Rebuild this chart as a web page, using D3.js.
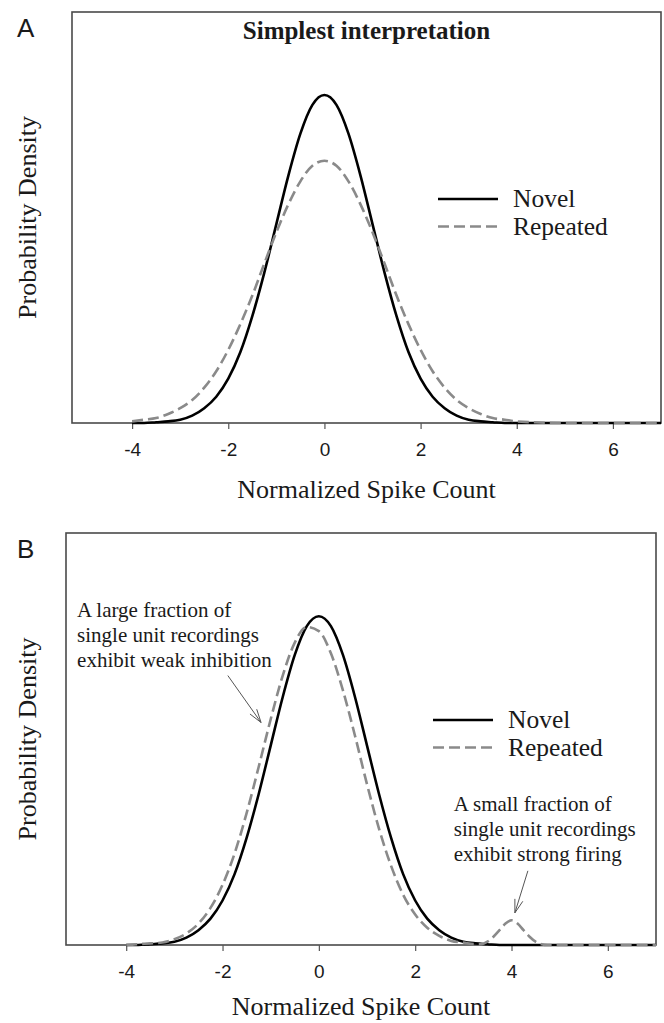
<!DOCTYPE html>
<html>

<head>
    <meta charset="utf-8">
    <script src="https://d3js.org/d3.v7.min.js"></script>
    <style>
        body { margin: 0; background: #fff; }
        text { font-family: "Liberation Serif", "Times New Roman", serif; fill: #1a1a1a; }
        .sans { font-family: "Liberation Sans", Arial, sans-serif; }
    </style>

    <script type="text/javascript">
        // x grid the curves were read at
        const xsA = [-4, -3.75, -3.5, -3.25, -3, -2.75, -2.5, -2.25, -2, -1.75, -1.5, -1.25, -1, -0.75, -0.5, -0.25,
            0, 0.25, 0.5, 0.75, 1, 1.25, 1.5, 1.75, 2, 2.25, 2.5, 2.75, 3, 3.25, 3.5, 3.75, 4, 5, 6, 7];
        const novel = [0, 0, 0.001, 0.002, 0.004, 0.009, 0.018, 0.032, 0.054, 0.086, 0.130, 0.183, 0.242, 0.301, 0.352, 0.387,
            0.399, 0.387, 0.352, 0.301, 0.242, 0.183, 0.130, 0.086, 0.054, 0.032, 0.018, 0.009, 0.004, 0.002, 0.001, 0, 0, 0, 0, 0];
        const repeatedA = [0.002, 0.004, 0.006, 0.011, 0.018, 0.028, 0.043, 0.063, 0.089, 0.120, 0.155, 0.194, 0.232, 0.266, 0.294, 0.313,
            0.319, 0.313, 0.294, 0.266, 0.232, 0.194, 0.155, 0.120, 0.089, 0.063, 0.043, 0.028, 0.018, 0.011, 0.006, 0.004, 0.002, 0, 0, 0];

        // panel B repeated curve has a small bump near 4, read on a finer grid there
        const xsB = [-4, -3.75, -3.5, -3.25, -3, -2.75, -2.5, -2.25, -2, -1.75, -1.5, -1.25, -1, -0.75, -0.5, -0.25,
            0, 0.25, 0.5, 0.75, 1, 1.25, 1.5, 1.75, 2, 2.25, 2.5, 2.75, 3,
            3.25, 3.375, 3.5, 3.625, 3.75, 3.875, 4, 4.125, 4.25, 4.375, 4.5, 4.625, 4.75, 5, 6, 7];
        const repeatedB = [0, 0.001, 0.002, 0.003, 0.007, 0.014, 0.026, 0.045, 0.073, 0.111, 0.160, 0.216, 0.274, 0.327, 0.367, 0.386,
            0.381, 0.354, 0.309, 0.254, 0.195, 0.141, 0.096, 0.061, 0.037, 0.021, 0.011, 0.005, 0.003,
            0.001, 0.001, 0.004, 0.010, 0.018, 0.026, 0.030, 0.026, 0.018, 0.010, 0.004, 0.001, 0, 0, 0, 0];

        const tickValues = [-4, -2, 0, 2, 4, 6];
        const seriesNames = ["Novel", "Repeated"];
        const xTitle = "Normalized Spike Count";
        const yTitle = "Probability Density";

        // annotation text and arrows (data units: [x, y])
        const noteWeak = ["A large fraction of", "single unit recordings", "exhibit weak inhibition"];
        const noteWeakAt = [-5.02, 0.398];
        const arrowWeak = [[-1.89, 0.327], [-1.20, 0.270]];
        const noteStrong = ["A small fraction of", "single unit recordings", "exhibit strong firing"];
        const noteStrongAt = [2.80, 0.163];
        const arrowStrong = [[4.34, 0.090], [4.07, 0.039]];

        function draw() {
            let svg = d3.select("body")
                .append("svg")
                .attr("width", 664)
                .attr("height", 1023);

            let panels = [
                {
                    tag: "A", left: 72, right: 661, top: 12, bottom: 423, titleGap: 75,
                    title: "Simplest interpretation",
                    novel: xsA.map((x, i) => [x, novel[i]]),
                    repeated: xsA.map((x, i) => [x, repeatedA[i]]),
                    notes: []
                },
                {
                    tag: "B", left: 66, right: 656, top: 533, bottom: 945, titleGap: 70,
                    title: null,
                    novel: xsA.map((x, i) => [x, novel[i]]),
                    repeated: xsB.map((x, i) => [x, repeatedB[i]]),
                    notes: [
                        { lines: noteWeak, at: noteWeakAt, arrow: arrowWeak },
                        { lines: noteStrong, at: noteStrongAt, arrow: arrowStrong }
                    ]
                }
            ];

            panels.forEach(p => drawPanel(svg, p));
        }

        function drawPanel(svg, p) {
            let x = d3.scaleLinear().domain([-5.25, 7]).range([p.left, p.right]);
            let y = d3.scaleLinear().domain([0, 0.5]).range([p.bottom, p.top]);
            let g = svg.append("g");
            let cx = (p.left + p.right) / 2;

            // frame
            g.append("rect")
                .attr("x", p.left).attr("y", p.top)
                .attr("width", p.right - p.left).attr("height", p.bottom - p.top)
                .attr("fill", "none").attr("stroke", "#4a4a4a").attr("stroke-width", 1.6);

            // x axis ticks
            let axis = d3.axisBottom(x).tickValues(tickValues).tickSize(6).tickPadding(14)
                .tickFormat(d => d < 0 ? "-" + Math.abs(d) : String(d));
            let ag = g.append("g").attr("transform", `translate(0,${p.bottom})`).call(axis);
            ag.select(".domain").remove();
            ag.selectAll(".tick line").attr("stroke", "#555").attr("stroke-width", 1.2);
            ag.selectAll(".tick text")
                .attr("class", "sans")
                .style("font-family", "'Liberation Sans', Arial, sans-serif")
                .style("font-size", "19px")
                .attr("fill", "#1a1a1a");

            let line = d3.line().x(d => x(d[0])).y(d => y(d[1])).curve(d3.curveMonotoneX);

            g.append("path")
                .attr("d", line(p.novel))
                .attr("fill", "none").attr("stroke", "#000").attr("stroke-width", 2.6);
            g.append("path")
                .attr("d", line(p.repeated))
                .attr("fill", "none").attr("stroke", "#8a8a8a").attr("stroke-width", 2.6)
                .attr("stroke-dasharray", "11,5");

            // panel tag
            g.append("text")
                .attr("class", "sans")
                .attr("x", 17).attr("y", p.top + 25)
                .style("font-family", "'Liberation Sans', Arial, sans-serif")
                .style("font-size", "26px")
                .text(p.tag);

            if (p.title) {
                g.append("text")
                    .attr("x", cx).attr("y", p.top + 27)
                    .attr("text-anchor", "middle")
                    .style("font-size", "25px").style("font-weight", "bold")
                    .text(p.title);
            }

            // axis titles
            g.append("text")
                .attr("x", cx).attr("y", p.bottom + p.titleGap)
                .attr("text-anchor", "middle")
                .style("font-size", "26px")
                .text(xTitle);
            g.append("text")
                .attr("transform", `translate(36,${(p.top + p.bottom) / 2}) rotate(-90)`)
                .attr("text-anchor", "middle")
                .style("font-size", "26px")
                .text(yTitle);

            // legend
            let lx = p.right - 223;
            let ly = p.top + 187;
            seriesNames.forEach((name, i) => {
                let yy = ly + i * 27.5;
                g.append("line")
                    .attr("x1", lx).attr("x2", lx + 60)
                    .attr("y1", yy).attr("y2", yy)
                    .attr("stroke", i === 0 ? "#000" : "#8a8a8a")
                    .attr("stroke-width", 2.6)
                    .attr("stroke-dasharray", i === 0 ? null : "11,5");
                g.append("text")
                    .attr("x", lx + 75).attr("y", yy + 8)
                    .style("font-size", "25.5px")
                    .text(name);
            });

            // annotations
            p.notes.forEach(n => {
                let t = g.append("text")
                    .attr("x", x(n.at[0])).attr("y", y(n.at[1]))
                    .style("font-size", "21px");
                n.lines.forEach((s, i) => {
                    t.append("tspan")
                        .attr("x", x(n.at[0]))
                        .attr("dy", i === 0 ? 0 : 25)
                        .text(s);
                });

                let sx = x(n.arrow[0][0]), sy = y(n.arrow[0][1]);
                let tx = x(n.arrow[1][0]), ty = y(n.arrow[1][1]);
                let ang = Math.atan2(ty - sy, tx - sx);
                let h = 14, s = 0.3;
                g.append("line")
                    .attr("x1", sx).attr("y1", sy).attr("x2", tx).attr("y2", ty)
                    .attr("stroke", "#555").attr("stroke-width", 1);
                g.append("path")
                    .attr("d", `M${tx - h * Math.cos(ang - s)},${ty - h * Math.sin(ang - s)}L${tx},${ty}L${tx - h * Math.cos(ang + s)},${ty - h * Math.sin(ang + s)}`)
                    .attr("fill", "none").attr("stroke", "#555").attr("stroke-width", 1);
            });
        }
    </script>
</head>

<body>
    <script type="text/javascript">
        draw();
    </script>
</body>

</html>
